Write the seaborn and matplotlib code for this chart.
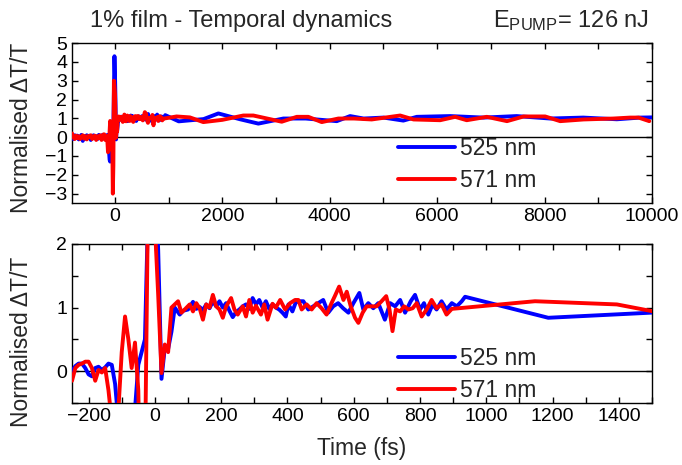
import numpy as np
import pandas as pd
import matplotlib
matplotlib.use("Agg")
import matplotlib.pyplot as plt
import seaborn as sns
from matplotlib.ticker import MultipleLocator

# ---- data: normalised dT/T transients of the 1% film ----
t_525 = [-800, -775, -750, -725, -700, -675, -650, -625, -600, -575, -550, -525,
         -500, -475, -450, -425, -400, -375, -350, -325, -300, -275,
         -250, -240, -230, -220, -210, -200, -190, -180, -170, -160, -150, -140,
         -130, -120, -110, -100, -90, -80, -70, -60, -50, -40, -30, -20, -10, 0,
         10, 20, 30, 40, 50, 60, 75, 85, 100, 115, 125, 135, 145, 155, 165, 175,
         185, 195, 205, 215, 225, 235, 245, 255, 265, 275, 285, 295, 305, 315,
         325, 335, 345, 355, 365, 375, 385, 395, 403, 415, 425, 435, 448, 463,
         478, 493, 508, 523, 538, 553, 568, 584, 599, 617, 629, 644, 659, 674,
         694, 710, 725, 740, 755, 772, 785, 800, 812, 825, 838, 850, 865, 880,
         896, 911, 926, 936,
         1187, 1650, 1925, 2330, 2670, 3136, 3550, 4130, 4378, 4630, 5000, 5370,
         5620, 6240, 6860, 7480, 8100, 8720, 9346, 9780, 10000]
v_525 = [0.05, -0.10, 0.10, -0.05, 0.08, -0.12, 0.00, 0.12, -0.20, 0.05, -0.08, 0.10,
         -0.05, 0.08, -0.15, 0.02, 0.10, -0.06, 0.05, -0.10, 0.12, -0.05,
         0.00, 0.08, 0.12, 0.12, 0.05, -0.05, -0.08, 0.05, 0.07, 0.02, 0.06, 0.12,
         0.10, -0.20, -0.80, -1.20, -1.30, -1.05, -0.90, -0.60, 0.10, 0.30, 0.50, 2.60, 4.30, 3.30,
         1.90, -0.12, 0.37, 0.35, 0.62, 1.00, 0.89, 0.95, 0.97, 1.09, 0.98, 1.01, 0.96, 1.05, 0.99, 1.10,
         1.02, 1.10, 1.00, 1.07, 0.95, 0.85, 0.93, 0.97, 1.02, 1.05, 0.98, 1.15, 1.05, 1.12,
         1.00, 1.10, 0.98, 1.05, 1.00, 0.97, 0.92, 0.86, 1.05, 0.94, 1.08, 1.10, 1.10, 0.97,
         1.02, 1.07, 1.12, 0.92, 1.02, 1.07, 0.99, 0.92, 1.07, 1.23, 0.97, 1.07, 0.99, 1.07,
         0.81, 1.07, 1.02, 1.12, 0.92, 1.10, 1.20, 0.97, 1.07, 0.89, 1.05, 0.97, 1.10, 0.97,
         1.07, 1.02, 1.10, 1.17,
         0.84, 0.96, 1.26, 0.95, 0.72, 0.99, 0.99, 0.85, 1.12, 0.99, 1.04, 0.88,
         1.08, 1.12, 1.04, 1.12, 0.99, 1.04, 0.95, 1.04, 1.05]

t_571 = [-800, -775, -750, -725, -700, -675, -650, -625, -600, -575, -550, -525,
         -500, -475, -450, -425, -400, -375, -350, -325, -300, -275,
         -250, -240, -230, -220, -210, -200, -190, -180, -170, -160, -150, -140,
         -130, -120, -110, -100, -90, -80, -70, -60, -50, -40, -30, -20, -10, 0,
         10, 20, 30, 40, 50, 60, 70, 80, 90, 105, 115, 125, 135, 145, 155, 165,
         175, 185, 195, 205, 215, 230, 240, 250, 265, 275, 285, 295, 305, 320,
         330, 340, 355, 365, 378, 393, 408, 423, 433, 443, 458, 473, 488, 503,
         518, 533, 543, 556, 569, 579, 591, 604, 614, 627, 639, 654, 669, 684,
         698, 708, 717, 727, 740, 752, 765, 778, 790, 805, 820, 835, 850, 865,
         880, 896,
         1147, 1394, 1645, 2000, 2390, 2577, 3105, 3385, 3600, 3850, 4160, 4450,
         4780, 5310, 5560, 6055, 6334, 6550, 6924, 7300, 7610, 8010, 8290, 8725,
         9283, 9594, 9750, 9950]
v_571 = [0.20, 0.00, -0.10, 0.08, -0.05, 0.05, -0.10, 0.02, 0.10, -0.08, 0.05, -0.12,
         0.06, 0.00, 0.10, -0.10, 0.03, 0.08, -0.15, 0.05, -0.05, 0.10,
         -0.15, 0.05, 0.10, 0.12, 0.15, 0.15, 0.05, -0.15, 0.02, -0.02, 0.05, -0.30,
         -0.80, -0.70, -0.60, 0.30, 0.86, 0.50, 0.05, 0.45, -0.30, -3.00, -1.50, 3.00, 2.70, 2.30,
         1.20, -0.03, 0.42, 0.30, 1.00, 1.05, 1.10, 0.92, 0.97, 1.05, 0.94, 1.07, 0.99, 0.81, 1.05, 1.00,
         1.20, 1.02, 0.97, 0.84, 1.02, 1.15, 0.97, 0.89, 1.02, 0.86, 1.12, 0.92, 1.03, 0.89,
         1.05, 0.81, 1.06, 1.00, 1.12, 0.97, 1.07, 1.12, 1.12, 0.97, 1.05, 0.97, 1.07, 0.99,
         0.89, 1.07, 1.18, 1.33, 1.12, 1.25, 1.02, 0.84, 0.76, 0.92, 1.02, 1.02, 1.02, 1.10,
         1.18, 0.97, 0.63, 0.97, 0.94, 1.02, 0.97, 0.99, 1.07, 0.86, 0.97, 1.12, 0.99, 1.05,
         0.89, 0.98,
         1.10, 1.05, 0.80, 0.92, 1.15, 1.15, 0.82, 1.08, 1.08, 0.80, 0.99, 0.99,
         0.94, 1.15, 0.94, 0.90, 1.08, 0.90, 1.08, 0.85, 1.10, 1.10, 0.85, 0.94,
         0.99, 1.04, 1.04, 0.85]

labels = ["525 nm", "571 nm"]
colors = ["#0000ff", "#ff0000"]

df = pd.concat([
    pd.DataFrame({"t": t_525, "v": v_525, "series": labels[0]}),
    pd.DataFrame({"t": t_571, "v": v_571, "series": labels[1]}),
])

sns.set_theme(style="ticks")
plt.rcParams["font.family"] = ["Liberation Sans", "DejaVu Sans"]
plt.rcParams["axes.linewidth"] = 1.0
for k in ("xtick.major.width", "ytick.major.width",
          "xtick.minor.width", "ytick.minor.width"):
    plt.rcParams[k] = 1.0

fig = plt.figure(figsize=(6.82, 4.65), dpi=100)
ax_top = fig.add_axes([0.1056, 0.5634, 0.8504, 0.344])
ax_bot = fig.add_axes([0.1056, 0.1333, 0.8504, 0.342])

palette = dict(zip(labels, colors))

for ax in (ax_top, ax_bot):
    ax.axhline(0, color="black", lw=1.0, zorder=1)
    sns.lineplot(data=df, x="t", y="v", hue="series", palette=palette,
                 estimator=None, sort=False, lw=2.8, ax=ax, zorder=3)
    ax.set_xlabel("")
    ax.set_ylabel("Normalised \u0394T/T", fontsize=16.5)
    ax.tick_params(which="both", direction="in", top=True, right=True,
                   labelsize=14, colors="black", length=4)
    for s in ax.spines.values():
        s.set_color("black")

# upper panel: full time window
ax_top.set_xlim(-800, 10000)
ax_top.set_ylim(-3.5, 5)
ax_top.xaxis.set_major_locator(MultipleLocator(2000))
ax_top.xaxis.set_minor_locator(MultipleLocator(1000))
ax_top.yaxis.set_major_locator(MultipleLocator(1))
ax_top.yaxis.set_label_coords(-0.068, 0.47)

# lower panel: first picoseconds
ax_bot.set_xlim(-250, 1500)
ax_bot.set_ylim(-0.5, 2)
ax_bot.xaxis.set_major_locator(MultipleLocator(200))
ax_bot.xaxis.set_minor_locator(MultipleLocator(100))
ax_bot.yaxis.set_major_locator(MultipleLocator(1))
ax_bot.yaxis.set_minor_locator(MultipleLocator(0.5))
ax_bot.yaxis.set_label_coords(-0.068, 0.384)
ax_bot.set_xlabel("Time (fs)", fontsize=16.5, labelpad=9)

leg_kw = dict(loc="upper left", frameon=False, fontsize=16.5, borderaxespad=0,
              borderpad=0, handlelength=2.5, handletextpad=0.22, labelspacing=0.36)
for ax, y in ((ax_top, 0.41), (ax_bot, 0.35)):
    h, l = ax.get_legend_handles_labels()
    leg = ax.legend(h, l, bbox_to_anchor=(0.562, y), **leg_kw)
    for line in leg.get_lines():
        line.set_linewidth(2.8)

fig.text(0.353, 0.955, "1% film - Temporal dynamics", ha="center", va="center",
         fontsize=17)
fig.text(0.952, 0.955, r"$\mathregular{E_{PUMP}}$= 126 nJ", ha="right", va="center",
         fontsize=17)

fig.savefig("out.png", dpi=100)
